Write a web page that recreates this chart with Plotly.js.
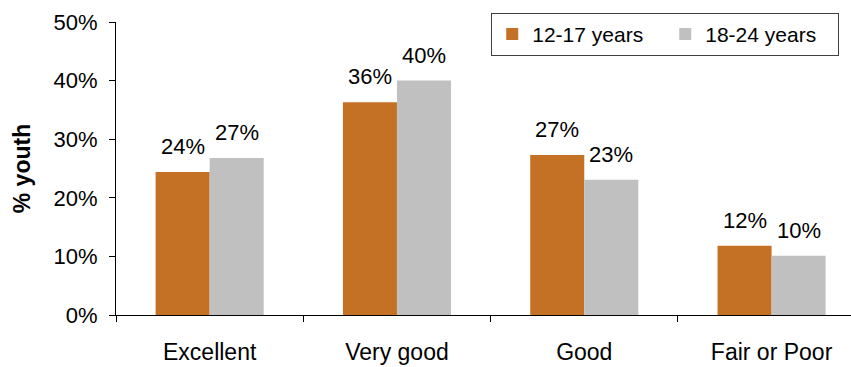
<!DOCTYPE html>
<html>
<head>
<meta charset="utf-8">
<script src="https://cdn.plot.ly/plotly-3.0.1.min.js"></script>
<style>html,body{margin:0;padding:0;background:#fff;}#chart{width:851px;height:367px;}</style>
</head>
<body>
<div id="chart"></div>
<script>
const categories = ["Excellent", "Very good", "Good", "Fair or Poor"];
const seriesNames = ["12-17 years", "18-24 years"];
const youth12to17 = [24.4, 36.3, 27.3, 11.8];
const youth18to24 = [26.8, 40.0, 23.1, 10.1];
const labels12to17 = ["24%", "36%", "27%", "12%"];
const labels18to24 = ["27%", "40%", "23%", "10%"];
const colors = ["#C47126", "#C0C0C0"];

const FONT = "Liberation Sans, Arial, sans-serif";

const traces = [
  {type: "bar", name: seriesNames[0], x: categories, y: youth12to17, marker: {color: colors[0]}, hoverinfo: "none"},
  {type: "bar", name: seriesNames[1], x: categories, y: youth18to24, marker: {color: colors[1]}, hoverinfo: "none"}
];

const annotations = [];
categories.forEach((c, i) => {
  annotations.push({x: c, y: youth12to17[i], xref: "x", yref: "y", text: labels12to17[i], showarrow: false,
    xanchor: "center", yanchor: "bottom", xshift: -27, yshift: 11, font: {family: FONT, size: 22, color: "#000"}});
  annotations.push({x: c, y: youth18to24[i], xref: "x", yref: "y", text: labels18to24[i], showarrow: false,
    xanchor: "center", yanchor: "bottom", xshift: 27, yshift: 11, font: {family: FONT, size: 22, color: "#000"}});
});

const layout = {
  width: 851, height: 367,
  margin: {l: 116, r: 0, t: 22, b: 52},
  paper_bgcolor: "#fff", plot_bgcolor: "#fff",
  font: {family: FONT, size: 22, color: "#000"},
  barmode: "group",
  bargap: 0.423, bargroupgap: 0,
  showlegend: true,
  legend: {orientation: "h", x: 0.984, xanchor: "right", y: 1.031, yanchor: "top",
    bordercolor: "#404040", borderwidth: 1, bgcolor: "#fff", font: {family: FONT, size: 21, color: "#000"},
    itemwidth: 30, entrywidth: 128, traceorder: "normal"},
  xaxis: {
    type: "category", range: [-0.5, 3.424],
    showline: true, linecolor: "#000", linewidth: 1,
    ticks: "outside", tickson: "boundaries", ticklen: 6, tickcolor: "#000",
    ticklabelstandoff: 16,
    showgrid: false, zeroline: false,
    tickfont: {family: FONT, size: 23, color: "#000"}
  },
  yaxis: {
    range: [0, 50], dtick: 10, ticksuffix: "%",
    showline: true, linecolor: "#000", linewidth: 1,
    ticks: "outside", ticklen: 6, tickcolor: "#000",
    ticklabelstandoff: 7,
    showgrid: false, zeroline: false,
    tickfont: {family: FONT, size: 22, color: "#000"},
    title: {text: "<b>% youth</b>", font: {family: FONT, size: 23, color: "#000"}, standoff: 16}
  },
  annotations: annotations
};

Plotly.newPlot("chart", traces, layout, {displayModeBar: false, staticPlot: true});
</script>
</body>
</html>
